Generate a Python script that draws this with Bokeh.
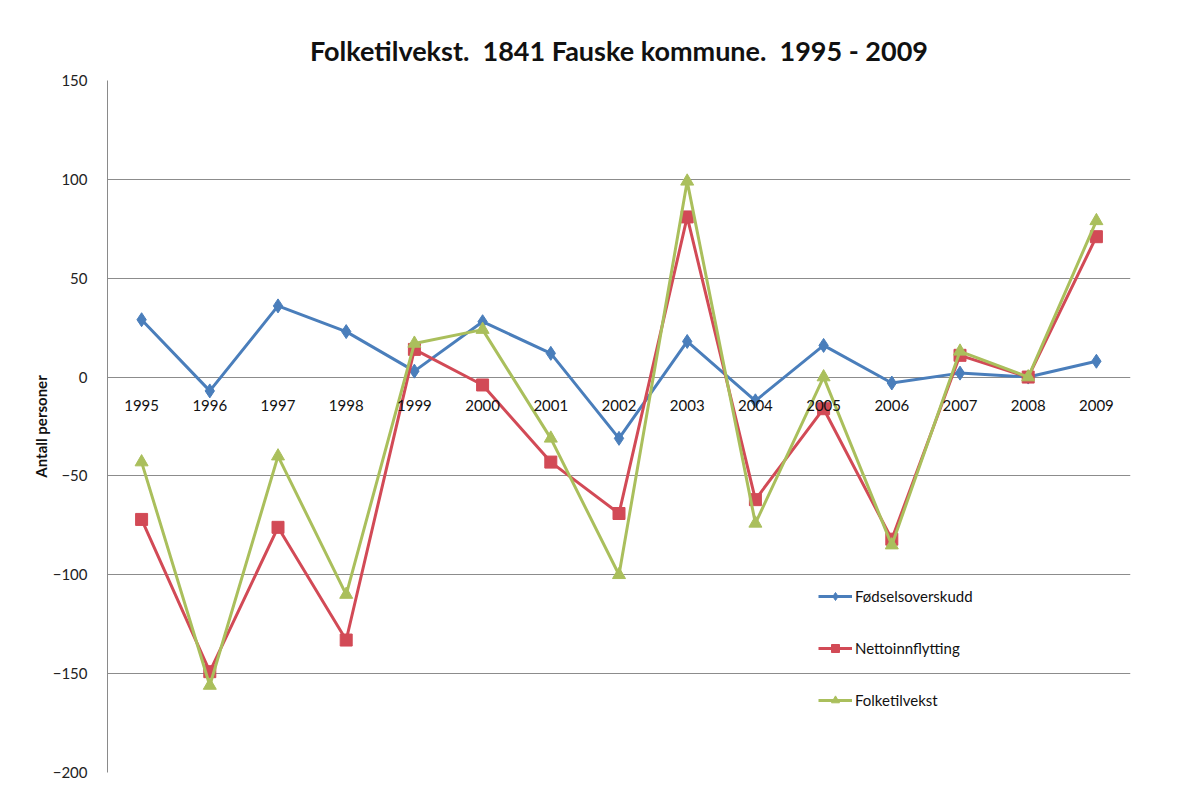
from bokeh.plotting import figure
from bokeh.models import ColumnDataSource, Legend, LegendItem, Range1d, FixedTicker
from bokeh.core.properties import value
from bokeh.embed import file_html
from bokeh.resources import INLINE

years = [1995, 1996, 1997, 1998, 1999, 2000, 2001, 2002, 2003, 2004, 2005, 2006, 2007, 2008, 2009]
fodselsoverskudd = [29, -7, 36, 23, 3, 28, 12, -31, 18, -12, 16, -3, 2, 0, 8]
nettoinnflytting = [-72, -149, -76, -133, 14, -4, -43, -69, 81, -62, -16, -82, 11, 0, 71]
folketilvekst = [-43, -156, -40, -110, 17, 24, -31, -100, 99, -74, 0, -85, 13, 0, 79]
y_ticks = [-200, -150, -100, -50, 0, 50, 100, 150]

title_text = "Folketilvekst.\u00a0 1841 Fauske kommune.\u00a0 1995 - 2009"
y_label = "Antall personer"
series_names = ["Fødselsoverskudd", "Nettoinnflytting", "Folketilvekst"]

FONT = "Lato"
BLUE = "#4A7EBB"
RED = "#D24A56"
GREEN = "#AABF5C"

p = figure(width=1183, height=785, output_backend="svg", toolbar_location=None,
           x_range=Range1d(years[0] - 0.5, years[-1] + 0.5),
           y_range=Range1d(y_ticks[0], y_ticks[-1]),
           min_border_left=107, min_border_right=53, min_border_top=80, min_border_bottom=13)

p.title.text = title_text
p.title.align = "center"
p.title.offset = -10
p.title.text_font = FONT
p.title.text_font_size = "27px"
p.title.text_font_style = "bold"
p.title.text_color = "#111111"
p.title.standoff = 28

p.outline_line_color = None
p.background_fill_color = "white"

p.xaxis.visible = False
p.xgrid.grid_line_color = None

p.yaxis.ticker = FixedTicker(ticks=y_ticks)
p.yaxis.major_tick_line_color = None
p.yaxis.minor_tick_line_color = None
p.yaxis.axis_line_color = "#8a8a8a"
p.yaxis.major_label_text_font = FONT
p.yaxis.major_label_text_font_size = "15px"
p.yaxis.major_label_text_color = "#222222"
p.yaxis.major_label_standoff = 14
p.yaxis.axis_label = y_label
p.yaxis.axis_label_text_font = FONT
p.yaxis.axis_label_text_font_size = "15px"
p.yaxis.axis_label_text_font_style = "bold"
p.yaxis.axis_label_text_color = "#111111"
p.yaxis.axis_label_standoff = 0

p.ygrid.grid_line_color = "#8c8c8c"
p.ygrid.grid_line_width = 1

src = ColumnDataSource(dict(x=years, a=fodselsoverskudd, b=nettoinnflytting, c=folketilvekst,
                            lbl=[str(y) for y in years], zero=[0] * len(years)))

l1 = p.line("x", "a", source=src, line_color=BLUE, line_width=3)
m1 = p.scatter("x", "a", source=src, marker="diamond", size=14, fill_color=BLUE, line_color=BLUE)
l2 = p.line("x", "b", source=src, line_color=RED, line_width=3)
m2 = p.scatter("x", "b", source=src, marker="square", size=12, fill_color=RED, line_color=RED)
l3 = p.line("x", "c", source=src, line_color=GREEN, line_width=3)
m3 = p.scatter("x", "c", source=src, marker="triangle", size=13, fill_color=GREEN, line_color=GREEN)

p.text("x", "zero", text="lbl", source=src, text_font=value(FONT), text_font_size="15px",
       text_color="#111111", text_align="center", text_baseline="middle", y_offset=28)

legend = Legend(items=[
    LegendItem(label=series_names[0], renderers=[l1, m1]),
    LegendItem(label=series_names[1], renderers=[l2, m2]),
    LegendItem(label=series_names[2], renderers=[l3, m3]),
], location=(711, 62))
legend.background_fill_alpha = 0
legend.border_line_color = None
legend.padding = 0
legend.margin = 0
legend.glyph_width = 34
legend.glyph_height = 20
legend.label_height = 20
legend.spacing = 32
legend.label_standoff = 3
legend.label_text_font = FONT
legend.label_text_font_size = "15px"
legend.label_text_color = "#111111"
p.add_layout(legend, "center")

open("out.html", "w").write(file_html(p, INLINE))
